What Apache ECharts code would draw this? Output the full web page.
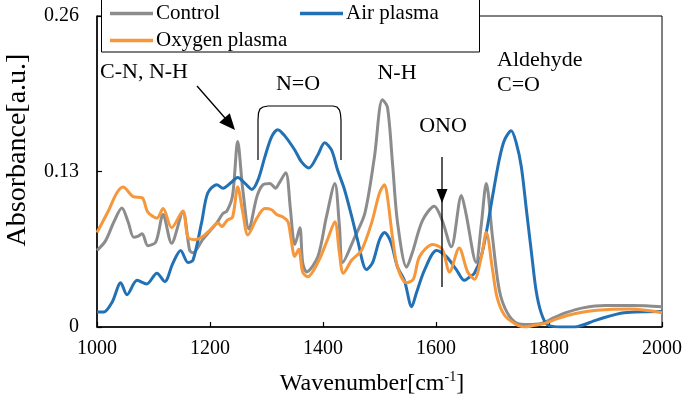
<!DOCTYPE html>
<html>
<head>
<meta charset="utf-8">
<script src="https://cdn.jsdelivr.net/npm/echarts@6/dist/echarts.min.js"></script>
<style>html,body{margin:0;padding:0;background:#fff}#c{width:685px;height:402px}</style>
</head>
<body>
<div id="c"></div>
<script>
const xTicks = [1000, 1200, 1400, 1600, 1800, 2000];
const yTicks = [0, 0.13, 0.26];

const controlWn = [1000,1015,1030,1044,1055,1065,1073,1080,1090,1104,1117,1132,1152,1164,1170,1187,1212,1223,1230,1240,1249,1258,1269,1283,1294,1306,1316,1322,1334,1342,1347,1350,1359,1364,1371,1391,1406,1421,1429,1435,1456,1474,1491,1505,1514,1523,1532,1548,1558,1576,1597,1611,1627,1645,1653,1671,1680,1689,1700,1712,1726,1744,1762,1786,1810,1830,1860,1900,1950,2000];
const controlAbs = [0.064,0.072,0.088,0.0995,0.088,0.075,0.076,0.078,0.068,0.071,0.094,0.070,0.096,0.064,0.062,0.073,0.087,0.095,0.097,0.110,0.155,0.115,0.082,0.109,0.119,0.120,0.116,0.120,0.129,0.100,0.075,0.069,0.083,0.054,0.046,0.059,0.092,0.120,0.085,0.054,0.075,0.095,0.142,0.190,0.184,0.137,0.087,0.050,0.062,0.089,0.101,0.089,0.067,0.110,0.095,0.054,0.085,0.120,0.075,0.031,0.012,0.003,0.002,0.003,0.008,0.012,0.016,0.018,0.018,0.017];

const airWn = [1000,1012,1027,1042,1053,1071,1088,1106,1120,1134,1148,1161,1170,1185,1196,1212,1223,1238,1249,1262,1274,1285,1297,1309,1320,1332,1350,1362,1375,1391,1403,1415,1426,1438,1451,1461,1477,1488,1500,1509,1520,1532,1544,1557,1565,1580,1601,1618,1636,1650,1660,1668,1680,1691,1700,1712,1721,1733,1742,1751,1760,1769,1777,1786,1797,1822,1845,1885,1933,2000];
const airAbs = [0.0125,0.0125,0.021,0.037,0.027,0.039,0.036,0.045,0.038,0.053,0.064,0.054,0.056,0.087,0.112,0.119,0.116,0.121,0.125,0.120,0.115,0.123,0.142,0.159,0.165,0.160,0.148,0.138,0.133,0.144,0.154,0.148,0.131,0.115,0.092,0.073,0.048,0.054,0.073,0.079,0.071,0.050,0.039,0.017,0.028,0.048,0.064,0.059,0.048,0.039,0.042,0.045,0.059,0.084,0.109,0.140,0.156,0.164,0.154,0.134,0.098,0.062,0.031,0.012,0.002,0.000,0.000,0.006,0.012,0.013];

const oxygenWn = [1000,1020,1035,1046,1064,1080,1090,1106,1117,1132,1152,1161,1173,1185,1200,1214,1221,1230,1240,1249,1258,1267,1283,1297,1309,1318,1329,1338,1343,1350,1357,1364,1373,1391,1408,1421,1429,1436,1451,1468,1486,1500,1509,1514,1523,1532,1548,1560,1571,1594,1611,1624,1641,1656,1668,1680,1689,1700,1708,1721,1739,1756,1770,1792,1815,1845,1885,1945,2000];
const oxygenAbs = [0.079,0.097,0.112,0.117,0.109,0.108,0.096,0.091,0.099,0.083,0.097,0.075,0.073,0.075,0.081,0.087,0.084,0.089,0.092,0.117,0.096,0.077,0.091,0.099,0.098,0.094,0.092,0.088,0.075,0.059,0.065,0.046,0.042,0.054,0.073,0.088,0.062,0.045,0.056,0.064,0.087,0.112,0.119,0.109,0.075,0.050,0.037,0.040,0.059,0.069,0.065,0.046,0.066,0.046,0.040,0.058,0.079,0.048,0.025,0.010,0.003,0.000,0.001,0.003,0.007,0.011,0.014,0.015,0.012];

const seriesNames = ['Control', 'Air plasma', 'Oxygen plasma'];
const colors = ['#8c8c8c', '#2271b5', '#f5973a'];

const FONT = 'Liberation Serif';
const zip = (xs, ys) => xs.map((x, i) => [x, ys[i]]);

const chart = echarts.init(document.getElementById('c'), null, {renderer: 'canvas'});

const mkSeries = (name, data, color, z) => ({
  name, type: 'line', data, smooth: 0.3, showSymbol: false, symbol: 'none',
  lineStyle: {color, width: 3}, itemStyle: {color}, z
});

const legendCommon = {
  orient: 'vertical', padding: 0, itemGap: 6, icon: 'rect', itemWidth: 43, itemHeight: 3.5,
  textStyle: {fontFamily: FONT, fontSize: 21, color: '#000', padding: [0, 0, 0, -2]}, z: 20
};

chart.setOption({
  animation: false,
  backgroundColor: '#fff',
  grid: {left: 97, right: 22, top: 16, bottom: 75, show: true, borderColor: '#000', borderWidth: 1, backgroundColor: 'transparent'},
  xAxis: {
    type: 'value', min: xTicks[0], max: xTicks[xTicks.length - 1], interval: 200,
    axisLine: {lineStyle: {color: '#000', width: 1.5}},
    axisTick: {inside: true, length: 5, lineStyle: {color: '#000', width: 1.2}},
    axisLabel: {color: '#000', fontFamily: FONT, fontSize: 20, margin: 12, formatter: v => String(v)},
    splitLine: {show: false}
  },
  yAxis: {
    type: 'value', min: 0, max: 0.26, interval: 0.13,
    axisLine: {show: true, lineStyle: {color: '#000', width: 1.5}},
    axisTick: {show: true, inside: true, length: 5, lineStyle: {color: '#000', width: 1.2}},
    axisLabel: {color: '#000', fontFamily: FONT, fontSize: 20, margin: 18,
      formatter: v => (v === 0 ? '0' : v.toFixed(2))},
    splitLine: {show: false}
  },
  legend: [
    Object.assign({data: ['Control', 'Oxygen plasma'], left: 110, top: 3}, legendCommon),
    Object.assign({data: ['Air plasma'], left: 300, top: 3}, legendCommon)
  ],
  series: [
    mkSeries(seriesNames[0], zip(controlWn, controlAbs), colors[0], 2),
    mkSeries(seriesNames[1], zip(airWn, airAbs), colors[1], 3),
    mkSeries(seriesNames[2], zip(oxygenWn, oxygenAbs), colors[2], 4)
  ],
  graphic: [
    {type: 'rect', z: 10, shape: {x: 101.5, y: -1, width: 378, height: 53}, style: {fill: '#fff', stroke: '#000', lineWidth: 1}},
    {type: 'text', z: 30, style: {text: 'Absorbance[a.u.]', x: 18, y: 150, font: '28px "Liberation Serif"', fill: '#000', textAlign: 'center', textVerticalAlign: 'middle'}, rotation: Math.PI / 2, originX: 18, originY: 150},
    {type: 'text', z: 30, style: {text: '{n|Wavenumber[cm}{s|-1}{n|]}', x: 372, y: 383, textAlign: 'center', textVerticalAlign: 'middle', fill: '#000',
      rich: {n: {fontFamily: FONT, fontSize: 24, lineHeight: 26, verticalAlign: 'bottom', fill: '#000', color: '#000'}, s: {fontFamily: FONT, fontSize: 14, lineHeight: 26, verticalAlign: 'top', fill: '#000', color: '#000'}}}},
    {type: 'text', z: 30, style: {text: 'C-N, N-H', x: 100, y: 72, font: '22px "Liberation Serif"', fill: '#000', textVerticalAlign: 'middle'}},
    {type: 'line', z: 30, shape: {x1: 197, y1: 86, x2: 225, y2: 118}, style: {stroke: '#000', lineWidth: 1.3}},
    {type: 'polygon', z: 30, shape: {points: [[235, 130], [219.2, 122.5], [229.8, 113.3]]}, style: {fill: '#000'}},
    {type: 'text', z: 30, style: {text: 'N=O', x: 298, y: 84, font: '22px "Liberation Serif"', fill: '#000', textAlign: 'center', textVerticalAlign: 'middle'}},
    {type: 'polyline', z: 30, shape: {points: [[258, 160], [258, 120], [258.5, 113], [260, 109], [263, 107], [268, 106], [333, 106], [337, 107], [339.5, 110], [340.5, 114], [341, 120], [341, 160]]}, style: {stroke: '#000', lineWidth: 1.2, fill: null}},
    {type: 'text', z: 30, style: {text: 'N-H', x: 397, y: 73, font: '22px "Liberation Serif"', fill: '#000', textAlign: 'center', textVerticalAlign: 'middle'}},
    {type: 'text', z: 30, style: {text: 'ONO', x: 443, y: 126, font: '22px "Liberation Serif"', fill: '#000', textAlign: 'center', textVerticalAlign: 'middle'}},
    {type: 'line', z: 30, shape: {x1: 442, y1: 157, x2: 442, y2: 287}, style: {stroke: '#000', lineWidth: 1.3}},
    {type: 'polygon', z: 30, shape: {points: [[436.5, 189], [447.5, 189], [442, 203]]}, style: {fill: '#000'}},
    {type: 'text', z: 30, style: {text: 'Aldehyde', x: 497, y: 60, font: '22px "Liberation Serif"', fill: '#000', textVerticalAlign: 'middle'}},
    {type: 'text', z: 30, style: {text: 'C=O', x: 497, y: 85, font: '22px "Liberation Serif"', fill: '#000', textVerticalAlign: 'middle'}}
  ]
});
</script>
</body>
</html>
